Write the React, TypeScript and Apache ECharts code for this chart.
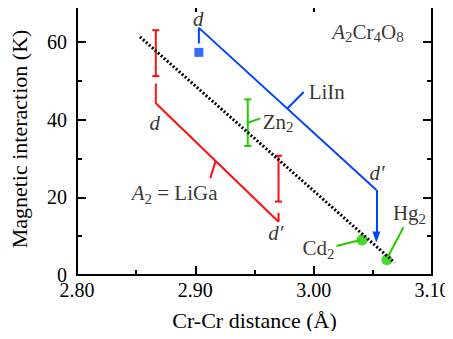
import React, { useEffect, useRef } from "react";
import * as echarts from "echarts";

// Cr-Cr distance (Å) vs magnetic interaction (K)
const xTicks = [2.8, 2.9, 3.0, 3.1];
const yTicks = [0, 20, 40, 60];

// LiIn path: d-end stub, diagonal, d'-end
const liInPath: [number, number][] = [
  [2.903, 59.6],
  [2.903, 63.6],
  [3.053, 21.9],
];
const liInArrow: [number, number][] = [
  [3.053, 21.9],
  [3.053, 9.8],
];
const liInPoint: [number, number][] = [[2.903, 57.3]];

// LiGa path
const liGaPath: [number, number][] = [
  [2.8666, 49.3],
  [2.8666, 44.2],
  [2.9703, 13.7],
  [2.9703, 16.0],
];
// error bars [x, low, high]
const liGaBars: [number, number, number][] = [
  [2.8666, 51.2, 63.0],
  [2.9703, 18.9, 30.7],
];
const zn2Bar: [number, number, number][] = [[2.9443, 33.2, 45.2]];
const cdHgPoints: [number, number][] = [
  [3.0409, 9.0],
  [3.0619, 3.9],
];
// dotted trend line
const trendLine: [number, number][] = [
  [2.8532, 61.3],
  [3.0683, 3.2],
];

// leader lines
const leaderLiIn: [number, number][] = [[2.9916, 47.1], [2.9779, 42.9]];
const leaderZn: [number, number][] = [[2.9549, 40.3], [2.9443, 39.2]];
const leaderLiGa: [number, number][] = [[2.9126, 24.9], [2.9171, 29.3]];
const leaderCd: [number, number][] = [[3.0193, 7.46], [3.0395, 9.0]];
const leaderHg: [number, number][] = [[3.0759, 12.3], [3.0628, 4.7]];

// annotation texts: [x, y, rich text, align]
const annotations: [number, number, string, string][] = [
  [2.9025, 65.9, "{i|d}", "center"],
  [3.0535, 26.2, "{i|d′}", "center"],
  [2.8658, 39.0, "{i|d}", "center"],
  [2.9681, 10.7, "{i|d′}", "center"],
  [2.9958, 47.2, "{n|LiIn}", "left"],
  [2.9569, 39.4, "{n|Zn}{s|2}", "left"],
  [2.8462, 21.0, "{i|A}{s|2}{n| = LiGa}", "left"],
  [2.9905, 6.9, "{n|Cd}{s|2}", "left"],
  [3.067, 15.9, "{n|Hg}{s|2}", "left"],
  [3.0157, 62.6, "{i|A}{s|2}{n|Cr}{s|4}{n|O}{s|8}", "left"],
];

const BLUE = "#0044ff";
const RED = "#ff1010";
const GREEN = "#22cc00";
const FONT = "'Liberation Serif', 'Times New Roman', serif";

export default function App() {
  const ref = useRef<HTMLDivElement>(null);
  useEffect(() => {
    if (!ref.current) return;
    const chart = echarts.init(ref.current, null, { renderer: "svg" });

    const rich = {
      n: { fontFamily: FONT, fontSize: 21, color: "#000", lineHeight: 26, verticalAlign: "middle" },
      i: { fontFamily: FONT, fontSize: 21, fontStyle: "italic", color: "#000", lineHeight: 26, verticalAlign: "middle" },
      s: { fontFamily: FONT, fontSize: 15, color: "#000", lineHeight: 26, verticalAlign: "bottom" },
    };

    const axisCommon = {
      type: "value",
      axisLine: { show: true, onZero: false, lineStyle: { color: "#000", width: 2 } },
      axisTick: { show: true, inside: true, length: 9, lineStyle: { color: "#000", width: 2 } },
      minorTick: { show: true, splitNumber: 2, length: 5, lineStyle: { color: "#000", width: 2 } },
      splitLine: { show: false },
      minorSplitLine: { show: false },
    };

    const errorBarSeries = (data: [number, number, number][], color: string) => ({
      type: "custom",
      data,
      encode: { x: 0, y: [1, 2] },
      silent: true,
      renderItem: (_p: any, api: any) => {
        const x = api.value(0);
        const lo = api.coord([x, api.value(1)]);
        const hi = api.coord([x, api.value(2)]);
        const w = 3.5;
        const style = { stroke: color, lineWidth: 2 };
        return {
          type: "group",
          children: [
            { type: "line", shape: { x1: lo[0], y1: lo[1], x2: hi[0], y2: hi[1] }, style },
            { type: "line", shape: { x1: lo[0] - w, y1: lo[1], x2: lo[0] + w, y2: lo[1] }, style },
            { type: "line", shape: { x1: hi[0] - w, y1: hi[1], x2: hi[0] + w, y2: hi[1] }, style },
          ],
        };
      },
    });

    const lineSeries = (data: [number, number][], color: string, width = 2, type: any = "solid") => ({
      type: "line",
      data,
      showSymbol: false,
      symbol: "none",
      silent: true,
      lineStyle: { color, width, type },
    });

    chart.setOption({
      animation: false,
      textStyle: { fontFamily: FONT },
      grid: { left: 75, right: 21, top: 3, bottom: 64 },
      xAxis: [
        {
          ...axisCommon,
          position: "bottom",
          min: xTicks[0],
          max: xTicks[xTicks.length - 1],
          interval: 0.1,
          name: "Cr-Cr distance (Å)",
          nameLocation: "middle",
          nameGap: 34,
          nameTextStyle: { fontFamily: FONT, fontSize: 22, color: "#000" },
          axisLabel: {
            fontFamily: FONT,
            fontSize: 20,
            color: "#000",
            margin: 5,
            formatter: (v: number) => v.toFixed(2),
          },
        },
        {
          ...axisCommon,
          position: "top",
          min: xTicks[0],
          max: xTicks[xTicks.length - 1],
          interval: 0.1,
          axisLabel: { show: false },
        },
      ],
      yAxis: [
        {
          ...axisCommon,
          position: "left",
          min: yTicks[0],
          max: 70,
          interval: 20,
          name: "Magnetic interaction (K)",
          nameLocation: "middle",
          nameGap: 47,
          nameTextStyle: { fontFamily: FONT, fontSize: 22, color: "#000" },
          axisLabel: {
            fontFamily: FONT,
            fontSize: 20,
            color: "#000",
            margin: 10,
            showMaxLabel: false,
          },
        },
        {
          ...axisCommon,
          position: "right",
          min: yTicks[0],
          max: 70,
          interval: 20,
          axisLabel: { show: false },
        },
      ],
      series: [
        lineSeries(trendLine, "#000", 3, [2, 2]),
        lineSeries(liInPath, BLUE),
        {
          ...lineSeries(liInArrow, BLUE),
          markLine: {
            silent: true,
            symbol: ["none", "triangle"],
            symbolSize: [8, 11],
            label: { show: false },
            lineStyle: { color: BLUE, width: 2, type: "solid" },
            data: [[{ coord: liInArrow[0] }, { coord: liInArrow[1] }]],
          },
          lineStyle: { width: 0, color: BLUE },
        },
        lineSeries(liGaPath, RED),
        lineSeries(leaderLiIn, BLUE),
        lineSeries(leaderLiGa, RED),
        lineSeries(leaderZn, GREEN),
        lineSeries(leaderCd, GREEN),
        lineSeries(leaderHg, GREEN),
        errorBarSeries(liGaBars, RED),
        errorBarSeries(zn2Bar, GREEN),
        {
          type: "scatter",
          data: liInPoint,
          symbol: "rect",
          symbolSize: 9,
          itemStyle: { color: BLUE },
          silent: true,
        },
        {
          type: "scatter",
          data: cdHgPoints,
          symbol: "circle",
          symbolSize: 11,
          itemStyle: { color: GREEN },
          silent: true,
          z: 1,
        },
        {
          type: "scatter",
          silent: true,
          symbolSize: 0,
          itemStyle: { color: "transparent" },
          data: annotations.map((a) => ({
            value: [a[0], a[1]],
            label: {
              show: true,
              position: [0, 0],
              align: a[3],
              verticalAlign: "middle",
              formatter: a[2],
              rich,
            },
          })),
        },
      ],
    });
    return () => chart.dispose();
  }, []);
  return <div ref={ref} style={{ width: 453, height: 339, margin: -8 }} />;
}
